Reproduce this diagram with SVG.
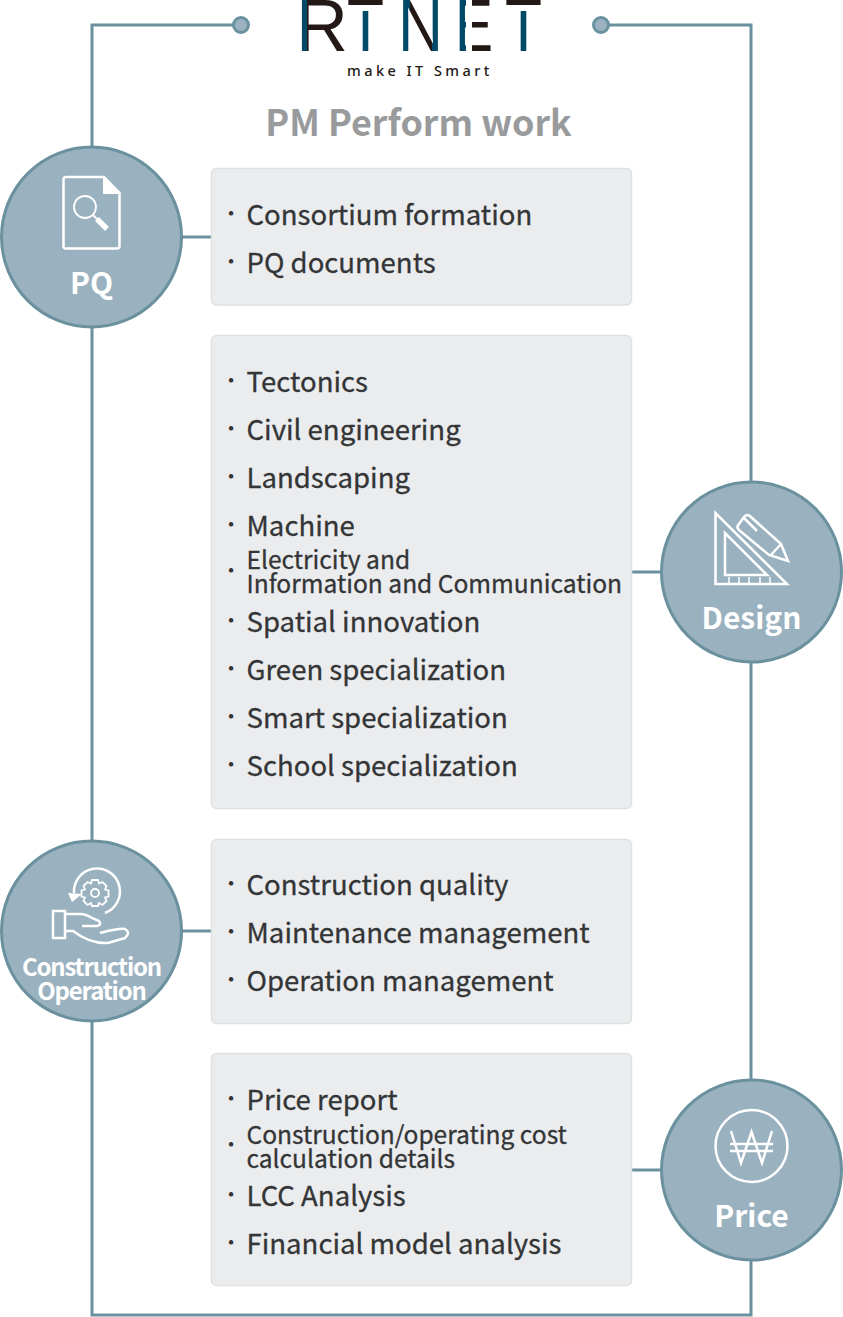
<svg xmlns="http://www.w3.org/2000/svg" width="843" height="1317" viewBox="0 0 843 1317">
<style>
.ln{fill:none;stroke:#6b919f;stroke-width:3}
.cir{fill:#9ab1bf;stroke:#6b919f;stroke-width:3}
.box{fill:#ebecee;stroke:#dfe1e3;stroke-width:1.5}
.ic{fill:none;stroke:#fff;stroke-width:2.5}
.th{fill:none;stroke:#fff;stroke-width:1.800}
.it{font-family:"Noto Sans CJK KR","Noto Sans",sans-serif;font-size:27.56px;fill:#333536;stroke:#333536;stroke-width:0.3px;font-weight:400}
.sm{font-family:"Noto Sans CJK KR","Noto Sans",sans-serif;font-size:24.55px;fill:#333536;stroke:#333536;stroke-width:0.3px;font-weight:400}
.bl{font-family:"Noto Sans CJK KR","Noto Sans",sans-serif;font-size:24px;fill:#333536;font-weight:700}
.lb{font-family:"Noto Sans CJK KR","Noto Sans",sans-serif;font-size:30px;fill:#fff;font-weight:700;text-anchor:middle}
.lb2{font-size:24px;letter-spacing:-1.2px}
.lg{font-family:"Liberation Sans",sans-serif;font-size:74px}
</style>
<defs>
<linearGradient id="gR" gradientUnits="userSpaceOnUse" x1="300" y1="0" x2="350" y2="0"><stop offset="0.14" stop-color="#004a68"/><stop offset="0.14" stop-color="#231815"/></linearGradient>
<linearGradient id="gT" gradientUnits="userSpaceOnUse" x1="0" y1="0" x2="0" y2="52"><stop offset="0.1" stop-color="#231815"/><stop offset="0.1" stop-color="#231815" stop-opacity="0"/><stop offset="0.22" stop-color="#004a68" stop-opacity="0"/><stop offset="0.22" stop-color="#004a68"/></linearGradient>
<linearGradient id="gN" gradientUnits="userSpaceOnUse" x1="400" y1="0" x2="440" y2="0"><stop offset="0.25" stop-color="#004a68"/><stop offset="0.25" stop-color="#231815"/><stop offset="0.8" stop-color="#231815"/><stop offset="0.8" stop-color="#004a68"/></linearGradient>
<linearGradient id="gE" gradientUnits="userSpaceOnUse" x1="458" y1="0" x2="490" y2="0"><stop offset="0.25" stop-color="#004a68"/><stop offset="0.25" stop-color="#fff"/><stop offset="0.44" stop-color="#fff"/><stop offset="0.44" stop-color="#231815"/></linearGradient>
</defs>
<g id="connectors">
<path class="ln" d="M234 25H92V1315H751V25H608"/>
<path class="ln" d="M92 237H211M632 572H752M92 931H211M632 1170H752"/>
<circle cx="241" cy="25" r="7.5" fill="#9ab1bf" stroke="#6b919f" stroke-width="3"/>
<circle cx="601" cy="25" r="7.5" fill="#9ab1bf" stroke="#6b919f" stroke-width="3"/>
</g>
<g id="logo">
<text class="lg" x="296" y="51" fill="url(#gR)" textLength="52" lengthAdjust="spacingAndGlyphs">R</text>
<text class="lg" x="347" y="51" fill="url(#gT)" textLength="37" lengthAdjust="spacingAndGlyphs">T</text>
<text class="lg" x="398" y="51" fill="url(#gN)" textLength="45" lengthAdjust="spacingAndGlyphs">N</text>
<text class="lg" x="455" y="51" fill="url(#gE)" textLength="38" lengthAdjust="spacingAndGlyphs">E</text>
<text class="lg" x="505" y="51" fill="url(#gT)" textLength="37" lengthAdjust="spacingAndGlyphs">T</text>
<text x="347" y="76" font-family="'Noto Sans','Noto Sans CJK KR',sans-serif" font-size="14.5" font-weight="500" letter-spacing="3.45" fill="#231815">make IT Smart</text>
</g>
<text id="title" x="418.5" y="136" text-anchor="middle" font-family="'Noto Sans CJK KR','Noto Sans',sans-serif" font-size="35.9" font-weight="700" fill="#999a9b">PM Perform work</text>

<g id="box-pq">
<rect class="box" x="211.500" y="168.500" width="420" height="136.500" rx="5"/>
<text class="bl" x="224" y="222">·</text><text class="it" x="246.500" y="225">Consortium formation</text>
<text class="bl" x="224" y="270">·</text><text class="it" x="246.500" y="273">PQ documents</text>
</g>
<g id="box-design">
<rect class="box" x="211.500" y="335.500" width="420" height="473" rx="5"/>
<text class="bl" x="224" y="389">·</text><text class="it" x="246.500" y="392">Tectonics</text>
<text class="bl" x="224" y="437">·</text><text class="it" x="246.500" y="440">Civil engineering</text>
<text class="bl" x="224" y="485">·</text><text class="it" x="246.500" y="488">Landscaping</text>
<text class="bl" x="224" y="533">·</text><text class="it" x="246.500" y="536">Machine</text>
<text class="bl" x="224" y="579">·</text><text class="sm" x="246.500" y="569">Electricity and</text><text class="sm" x="246.500" y="593">Information and Communication</text>
<text class="bl" x="224" y="629">·</text><text class="it" x="246.500" y="632">Spatial innovation</text>
<text class="bl" x="224" y="677">·</text><text class="it" x="246.500" y="680">Green specialization</text>
<text class="bl" x="224" y="725">·</text><text class="it" x="246.500" y="728">Smart specialization</text>
<text class="bl" x="224" y="773">·</text><text class="it" x="246.500" y="776">School specialization</text>
</g>
<g id="box-construction">
<rect class="box" x="211.500" y="839.500" width="420" height="184" rx="5"/>
<text class="bl" x="224" y="892">·</text><text class="it" x="246.500" y="895">Construction quality</text>
<text class="bl" x="224" y="940">·</text><text class="it" x="246.500" y="943">Maintenance management</text>
<text class="bl" x="224" y="988">·</text><text class="it" x="246.500" y="991">Operation management</text>
</g>
<g id="box-price">
<rect class="box" x="211.500" y="1053.500" width="420" height="232" rx="5"/>
<text class="bl" x="224" y="1107">·</text><text class="it" x="246.500" y="1110">Price report</text>
<text class="bl" x="224" y="1153">·</text><text class="sm" x="246.500" y="1144">Construction/operating cost</text><text class="sm" x="246.500" y="1168">calculation details</text>
<text class="bl" x="224" y="1203">·</text><text class="it" x="246.500" y="1206">LCC Analysis</text>
<text class="bl" x="224" y="1251">·</text><text class="it" x="246.500" y="1254">Financial model analysis</text>
</g>

<g id="node-pq">
<circle class="cir" cx="91.500" cy="237" r="90"/>
<path class="ic" d="M104 177H66Q63.500 177 63.500 179.500V246Q63.500 248.500 66 248.500H117Q119.500 248.500 119.500 246V193Z"/>
<path d="M103 176L120 192V194H103Z" fill="#fff"/>
<circle class="th" cx="85" cy="207" r="11"/>
<path d="M93 215L98 220" class="th"/>
<path d="M97 219L107 229" stroke="#fff" stroke-width="5.500" fill="none"/>
<text class="lb" x="91.500" y="294">PQ</text>
</g>
<g id="node-design">
<circle class="cir" cx="751.500" cy="572" r="90"/>
<path class="ic" d="M715.500 513V584H787Z"/>
<path class="ic" d="M725 533V575H767Z"/>
<path d="M729 577V583M739 577V583M749 577V583M760 577V583M770 577V583" stroke="#fff" stroke-width="1.500" fill="none"/>
<path class="ic" d="M739 524L744 517Q747 513 751 517L781 544L788 561L769 555L739 530Q736 527 739 524Z"/>
<path class="ic" d="M744 518L757 531M781 544L771 555"/>
<text class="lb" x="751.500" y="629">Design</text>
</g>
<g id="node-construction">
<circle class="cir" cx="91.500" cy="931" r="90"/>
<path class="ic" d="M105 913A23 23 0 1 0 74 893"/>
<path d="M68 893L82 894L72 902Z" fill="#fff"/>
<circle class="th" cx="95" cy="893" r="4"/>
<path class="th" d="M92 880H98L99 883.500L102.500 882L106.500 886L105 889.500L108.500 890.500V896.500L105 897.500L106.500 901L102.500 905L99 903L98 906H92L91 903L87.500 905L83.500 901L85 897.500L81.500 896.500V890.500L85 889.500L83.500 886L87.500 882L91 883.500Z"/>
<path class="ic" d="M53 911H65V938H53Z"/>
<path class="ic" d="M65 914H80Q86 914 92 918L99 921Q102 925 97 926H82M65 931H73Q90 944 108 943L125 938Q131 933 125 929Q120 928 100 933"/>
<text class="lb lb2" x="91.500" y="976">Construction</text>
<text class="lb lb2" x="91.500" y="1000">Operation</text>
</g>
<g id="node-price">
<circle class="cir" cx="751.500" cy="1170" r="90"/>
<circle class="ic" cx="751.500" cy="1146" r="36"/>
<path class="ic" d="M731 1131L741 1163L751.500 1132L762 1163L772 1131M730 1144H773M730 1151H773"/>
<text class="lb" x="751.500" y="1227">Price</text>
</g>
</svg>
